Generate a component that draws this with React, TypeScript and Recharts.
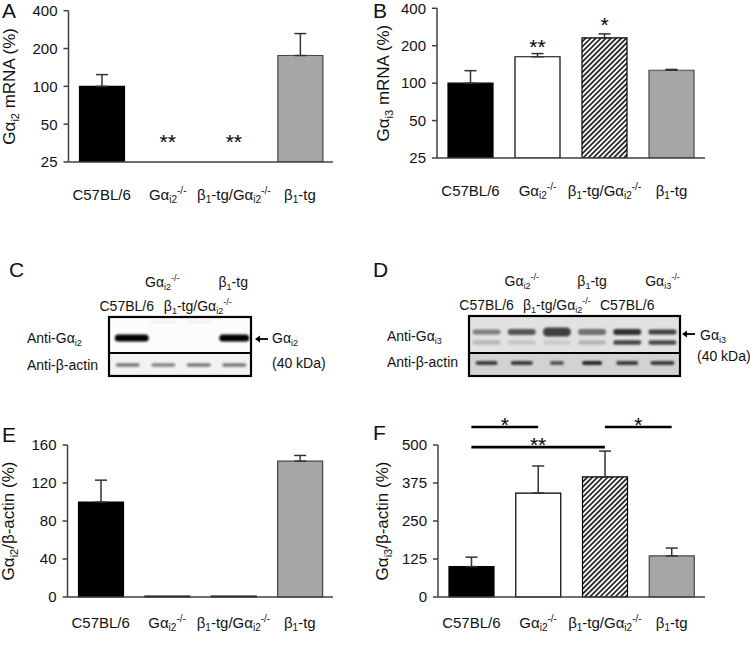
import React from 'react';
import { BarChart, Bar, XAxis, YAxis, Cell, ErrorBar, ReferenceLine, ReferenceDot } from 'recharts';

const FONT = '"Liberation Sans", Arial, Helvetica, sans-serif';

type Kind = 'n' | 'sub' | 'sup';
type Seg = [string, Kind];

// ---------- data ----------
const categories = ['C57BL/6', 'Gαi2-/-', 'β1-tg/Gαi2-/-', 'β1-tg'];
const categoryLabels: Seg[][] = [
  [['C57BL/6', 'n']],
  [['Gα', 'n'], ['i2', 'sub'], ['-/-', 'sup']],
  [['β', 'n'], ['1', 'sub'], ['-tg/Gα', 'n'], ['i2', 'sub'], ['-/-', 'sup']],
  [['β', 'n'], ['1', 'sub'], ['-tg', 'n']],
];

const mrnaGai2: (number | null)[] = [100, null, null, 176];
const mrnaGai2Err: (number | null)[] = [24, null, null, 87];
const mrnaGai3: number[] = [100, 163, 231, 127];
const mrnaGai3Err: number[] = [26, 10, 18, 2];
const proteinGai2: number[] = [100, 1, 1, 143];
const proteinGai2Err: (number | null)[] = [23, null, null, 6];
const proteinGai3: number[] = [100, 342, 395, 135];
const proteinGai3Err: number[] = [31, 89, 85, 26];

const logTicks = [25, 50, 100, 200, 400];
const gai2ProteinTicks = [0, 40, 80, 120, 160];
const gai3ProteinTicks = [0, 125, 250, 375, 500];

const starsA = [
  { cat: 1, y: 39, text: '**' },
  { cat: 2, y: 39, text: '**' },
];
const starsB = [
  { cat: 1, y: 213, text: '**' },
  { cat: 2, y: 320, text: '*' },
];
const bracketsF = [
  { from: 0, to: 1, y: 559, text: '*' },
  { from: 0, to: 2, y: 493, text: '**' },
  { from: 2, to: 3, y: 559, text: '*' },
];

const yLabelA: Seg[] = [['Gα', 'n'], ['i2', 'sub'], [' mRNA (%)', 'n']];
const yLabelB: Seg[] = [['Gα', 'n'], ['i3', 'sub'], [' mRNA (%)', 'n']];
const yLabelE: Seg[] = [['Gα', 'n'], ['i2', 'sub'], ['/β-actin (%)', 'n']];
const yLabelF: Seg[] = [['Gα', 'n'], ['i3', 'sub'], ['/β-actin (%)', 'n']];

// blots
const laneLabelsC: Seg[][] = [
  [['C57BL/6', 'n']],
  [['Gα', 'n'], ['i2', 'sub'], ['-/-', 'sup']],
  [['β', 'n'], ['1', 'sub'], ['-tg/Gα', 'n'], ['i2', 'sub'], ['-/-', 'sup']],
  [['β', 'n'], ['1', 'sub'], ['-tg', 'n']],
];
const laneLabelsD: Seg[][] = [
  [['C57BL/6', 'n']],
  [['Gα', 'n'], ['i2', 'sub'], ['-/-', 'sup']],
  [['β', 'n'], ['1', 'sub'], ['-tg/Gα', 'n'], ['i2', 'sub'], ['-/-', 'sup']],
  [['β', 'n'], ['1', 'sub'], ['-tg', 'n']],
  [['C57BL/6', 'n']],
  [['Gα', 'n'], ['i3', 'sub'], ['-/-', 'sup']],
];
const blotCGai2 = [1, 0.05, 0.04, 1];
const blotCGai2Width = [34, 26, 26, 30];
const blotCActin = [0.5, 0.45, 0.5, 0.5];
const blotDUpper = [0.45, 0.62, 0.72, 0.5, 0.78, 0.72];
const blotDUpperH = [5, 6, 9, 6, 6, 5];
const blotDLower = [0.18, 0.12, 0.1, 0.2, 0.7, 0.68];
const blotDActin = [0.7, 0.72, 0.6, 0.82, 0.72, 0.72];
const blotDActinW = [22, 22, 14, 20, 22, 24];

const barFills = ['#000000', '#ffffff', 'url(#hatch)', '#a6a6a6'];
const barStrokes = ['#000000', '#000000', '#000000', '#454545'];

// ---------- helpers ----------
function renderSegs(segs: Seg[], fs: number) {
  const subFs = Math.round(fs * 0.65);
  const level = (s: Kind) => (s === 'sub' ? fs * 0.22 : s === 'sup' ? -fs * 0.42 : 0);
  let state: Kind = 'n';
  return segs.map(([t, k], i) => {
    const dy = level(k) - level(state);
    state = k;
    return (
      <tspan key={i} dy={dy || undefined} fontSize={k === 'n' ? fs : subFs}>
        {t}
      </tspan>
    );
  });
}

const makeXTick = (offset: number) => (props: any) => {
  const { x, payload } = props;
  const y = props.y + offset;
  const idx = categories.indexOf(payload.value);
  const segs = (categoryLabels[idx] || [[String(payload.value), 'n']]) as Seg[];
  return (
    <text x={x} y={y + 5} textAnchor="middle" fontSize={15} fontFamily={FONT} fill="#111">
      {renderSegs(segs, 15)}
    </text>
  );
};

const makeYLabel = (segs: Seg[], lx: number) => (props: any) => {
  const vb = props.viewBox || {};
  const cy = (vb.y || 0) + (vb.height || 0) / 2;
  return (
    <text x={lx} y={cy} transform={`rotate(-90 ${lx} ${cy})`} textAnchor="middle" fontSize={17} fontFamily={FONT} fill="#111">
      {renderSegs(segs, 17)}
    </text>
  );
};

const starShape = (text: string) => (p: any) => (
  <text x={p.cx} y={p.cy + 11.5} textAnchor="middle" fontSize={21} fontFamily={FONT} fill="#000">
    {text}
  </text>
);

const bracketLabel = (text: string) => (props: any) => {
  const vb = props.viewBox || {};
  return (
    <text x={vb.x + vb.width / 2} y={vb.y + 4.5} textAnchor="middle" fontSize={21} fontFamily={FONT} fill="#000">
      {text}
    </text>
  );
};

const axisLine = { stroke: '#404040', strokeWidth: 1.5 };
const yTickStyle = { fontSize: 15, fill: '#111', fontFamily: FONT };

function buildData(values: (number | null)[], errs: (number | null)[]) {
  return categories.map((name, i) => ({
    name,
    value: values[i],
    err: errs[i] == null ? null : [0, errs[i] as number],
  }));
}

const dataA = buildData(mrnaGai2, mrnaGai2Err);
const dataB = buildData(mrnaGai3, mrnaGai3Err);
const dataE = buildData(proteinGai2, proteinGai2Err);
const dataF = buildData(proteinGai3, proteinGai3Err);

function renderBar(data: any[]) {
  return (
    <Bar dataKey="value" barSize={45} isAnimationActive={false} strokeWidth={1.2}>
      {data.map((_, i) => (
        <Cell key={i} fill={barFills[i]} stroke={barStrokes[i]} />
      ))}
      <ErrorBar dataKey="err" width={6} strokeWidth={1.5} stroke="#333" direction="y" isAnimationActive={false} />
    </Bar>
  );
}

// ---------- blots ----------
function Blot({ x, y, w, h, mid, lanes, labels, upperBg, lowerBg, children }: any) {
  const lw = w / lanes;
  return (
    <g>
      <rect x={x} y={y} width={w} height={mid - y} fill={upperBg} />
      <rect x={x} y={mid} width={w} height={y + h - mid} fill={lowerBg} />
      {children(lw)}
      <rect x={x} y={y} width={w} height={h} fill="none" stroke="#000" strokeWidth={2.2} />
      <line x1={x} x2={x + w} y1={mid} y2={mid} stroke="#000" strokeWidth={2.2} />
      {labels.map((segs: Seg[], i: number) => {
        const sx = x + lw * (i + 0.5);
        const sy = i % 2 === 0 ? y - 6 : y - 30;
        return (
          <text key={i} x={sx} y={sy} textAnchor="middle" fontSize={14} fontFamily={FONT} fill="#111">
            {renderSegs(segs, 14)}
          </text>
        );
      })}
    </g>
  );
}

function Band({ cx, cy, w, h, o }: { cx: number; cy: number; w: number; h: number; o: number }) {
  return <rect x={cx - w / 2} y={cy - h / 2} width={w} height={h} rx={h / 2} fill="#000" opacity={o} filter="url(#blur)" />;
}

function Arrow({ x, y }: { x: number; y: number }) {
  return (
    <g>
      <line x1={x + 3} x2={x + 13} y1={y} y2={y} stroke="#000" strokeWidth={1.8} />
      <polygon points={`${x},${y} ${x + 5},${y - 3.5} ${x + 5},${y + 3.5}`} fill="#000" />
    </g>
  );
}

function Overlay() {
  const letter = (t: string, x: number, y: number) => (
    <text x={x} y={y} fontSize={21} fontFamily={FONT} fill="#111">
      {t}
    </text>
  );
  const cX = 109, cY = 317, cW = 142, cH = 59, cMid = 353;
  const dX = 469, dY = 316, dW = 211, dH = 60, dMid = 353;
  return (
    <svg width={750} height={661} style={{ position: 'absolute', left: 0, top: 0, pointerEvents: 'none' }}>
      {letter('A', 2, 18)}
      {letter('B', 373, 18)}
      {letter('C', 9, 277)}
      {letter('D', 373, 277)}
      {letter('E', 2, 442)}
      {letter('F', 373, 440)}

      <Blot x={cX} y={cY} w={cW} h={cH} mid={cMid} lanes={4} labels={laneLabelsC} upperBg="#fcfcfc" lowerBg="#f2f2f2">
        {(lw: number) => (
          <g>
            {blotCGai2.map((o, i) => (
              <Band key={'g' + i} cx={cX + lw * (i + 0.5) + (i === 0 ? 5 : 1)} cy={i === 0 || i === 3 ? 338 : 322} w={blotCGai2Width[i]} h={i === 0 || i === 3 ? 7 : 3} o={o} />
            ))}
            {blotCActin.map((o, i) => (
              <Band key={'a' + i} cx={cX + lw * (i + 0.5) + 1} cy={365} w={24} h={3.5} o={o} />
            ))}
          </g>
        )}
      </Blot>
      <text x={27} y={343} fontSize={14} fontFamily={FONT} fill="#111">{renderSegs([['Anti-Gα', 'n'], ['i2', 'sub']], 14)}</text>
      <text x={27} y={370} fontSize={14} fontFamily={FONT} fill="#111">Anti-β-actin</text>
      <Arrow x={255} y={339} />
      <text x={272} y={343} fontSize={14} fontFamily={FONT} fill="#111">{renderSegs([['Gα', 'n'], ['i2', 'sub']], 14)}</text>
      <text x={272} y={368} fontSize={14} fontFamily={FONT} fill="#111">(40 kDa)</text>

      <Blot x={dX} y={dY} w={dW} h={dH} mid={dMid} lanes={6} labels={laneLabelsD} upperBg="#e2e2e2" lowerBg="#d2d2d2">
        {(lw: number) => (
          <g>
            {blotDUpper.map((o, i) => (
              <Band key={'u' + i} cx={dX + lw * (i + 0.5)} cy={332} w={28} h={blotDUpperH[i]} o={o} />
            ))}
            {blotDLower.map((o, i) => (
              <Band key={'l' + i} cx={dX + lw * (i + 0.5)} cy={342.5} w={28} h={4.5} o={o} />
            ))}
            {blotDActin.map((o, i) => (
              <Band key={'a' + i} cx={dX + lw * (i + 0.5)} cy={363} w={blotDActinW[i]} h={4} o={o} />
            ))}
          </g>
        )}
      </Blot>
      <text x={387} y={341} fontSize={14} fontFamily={FONT} fill="#111">{renderSegs([['Anti-Gα', 'n'], ['i3', 'sub']], 14)}</text>
      <text x={387} y={367} fontSize={14} fontFamily={FONT} fill="#111">Anti-β-actin</text>
      <Arrow x={682} y={334} />
      <text x={700} y={340} fontSize={14} fontFamily={FONT} fill="#111">{renderSegs([['Gα', 'n'], ['i3', 'sub']], 14)}</text>
      <text x={697} y={361} fontSize={14} fontFamily={FONT} fill="#111">(40 kDa)</text>
    </svg>
  );
}

export default function App() {
  return (
    <div style={{ position: 'absolute', left: 0, top: 0, width: 750, height: 661, background: '#fff', overflow: 'hidden' }}>
      <svg width={0} height={0} style={{ position: 'absolute' }}>
        <defs>
          <pattern id="hatch" width={3.6} height={3.6} patternUnits="userSpaceOnUse" patternTransform="rotate(45)">
            <rect width={3.6} height={3.6} fill="#fff" />
            <line x1={0.9} y1={0} x2={0.9} y2={3.6} stroke="#000" strokeWidth={1.5} />
          </pattern>
          <filter id="blur" x="-20%" y="-100%" width="140%" height="300%">
            <feGaussianBlur stdDeviation={0.9} />
          </filter>
        </defs>
      </svg>

      {/* Panel A */}
      <div style={{ position: 'absolute', left: 0, top: 0 }}>
        <BarChart width={345} height={240} data={dataA} margin={{ top: 10.7, right: 12, left: 0, bottom: 0 }}>
          <XAxis dataKey="name" interval={0} height={78} tickLine={false} tickSize={0} tickMargin={0} axisLine={axisLine} tick={makeXTick(33)} />
          <YAxis width={68.5} type="number" scale="log" domain={[25, 400]} ticks={logTicks} allowDataOverflow interval={0} tick={yTickStyle} tickSize={5} tickMargin={6} axisLine={axisLine} tickLine={axisLine} label={makeYLabel(yLabelA, 15)} />
          {renderBar(dataA)}
          {starsA.map((s, i) => (
            <ReferenceDot key={i} x={categories[s.cat]} y={s.y} r={0} ifOverflow="visible" shape={starShape(s.text)} />
          ))}
        </BarChart>
      </div>

      {/* Panel B */}
      <div style={{ position: 'absolute', left: 368, top: 0 }}>
        <BarChart width={352} height={236} data={dataB} margin={{ top: 8.3, right: 15, left: 0, bottom: 0 }}>
          <XAxis dataKey="name" interval={0} height={78} tickLine={false} tickSize={0} tickMargin={0} axisLine={axisLine} tick={makeXTick(33)} />
          <YAxis width={69} type="number" scale="log" domain={[25, 400]} ticks={logTicks} allowDataOverflow interval={0} tick={yTickStyle} tickSize={5} tickMargin={6} axisLine={axisLine} tickLine={axisLine} label={makeYLabel(yLabelB, 21)} />
          {renderBar(dataB)}
          {starsB.map((s, i) => (
            <ReferenceDot key={i} x={categories[s.cat]} y={s.y} r={0} ifOverflow="visible" shape={starShape(s.text)} />
          ))}
        </BarChart>
      </div>

      {/* Panel E */}
      <div style={{ position: 'absolute', left: 0, top: 420 }}>
        <BarChart width={345} height={241} data={dataE} margin={{ top: 25, right: 12, left: 0, bottom: 0 }}>
          <XAxis dataKey="name" interval={0} height={64} tickLine={false} tickSize={0} tickMargin={0} axisLine={axisLine} tick={makeXTick(26)} />
          <YAxis width={67.5} type="number" domain={[0, 160]} ticks={gai2ProteinTicks} interval={0} tick={yTickStyle} tickSize={5} tickMargin={6} axisLine={axisLine} tickLine={axisLine} label={makeYLabel(yLabelE, 14)} />
          {renderBar(dataE)}
        </BarChart>
      </div>

      {/* Panel F */}
      <div style={{ position: 'absolute', left: 368, top: 400 }}>
        <BarChart width={352} height={261} data={dataF} margin={{ top: 45, right: 15, left: 0, bottom: 0 }}>
          <XAxis dataKey="name" interval={0} height={64} tickLine={false} tickSize={0} tickMargin={0} axisLine={axisLine} tick={makeXTick(26)} />
          <YAxis width={70} type="number" domain={[0, 500]} ticks={gai3ProteinTicks} interval={0} tick={yTickStyle} tickSize={5} tickMargin={6} axisLine={axisLine} tickLine={axisLine} label={makeYLabel(yLabelF, 20)} />
          {renderBar(dataF)}
          {bracketsF.map((b, i) => (
            <ReferenceLine
              key={i}
              ifOverflow="visible"
              segment={[
                { x: categories[b.from], y: b.y },
                { x: categories[b.to], y: b.y },
              ]}
              stroke="#000"
              strokeWidth={2.6}
              label={bracketLabel(b.text)}
            />
          ))}
        </BarChart>
      </div>

      <Overlay />
    </div>
  );
}
